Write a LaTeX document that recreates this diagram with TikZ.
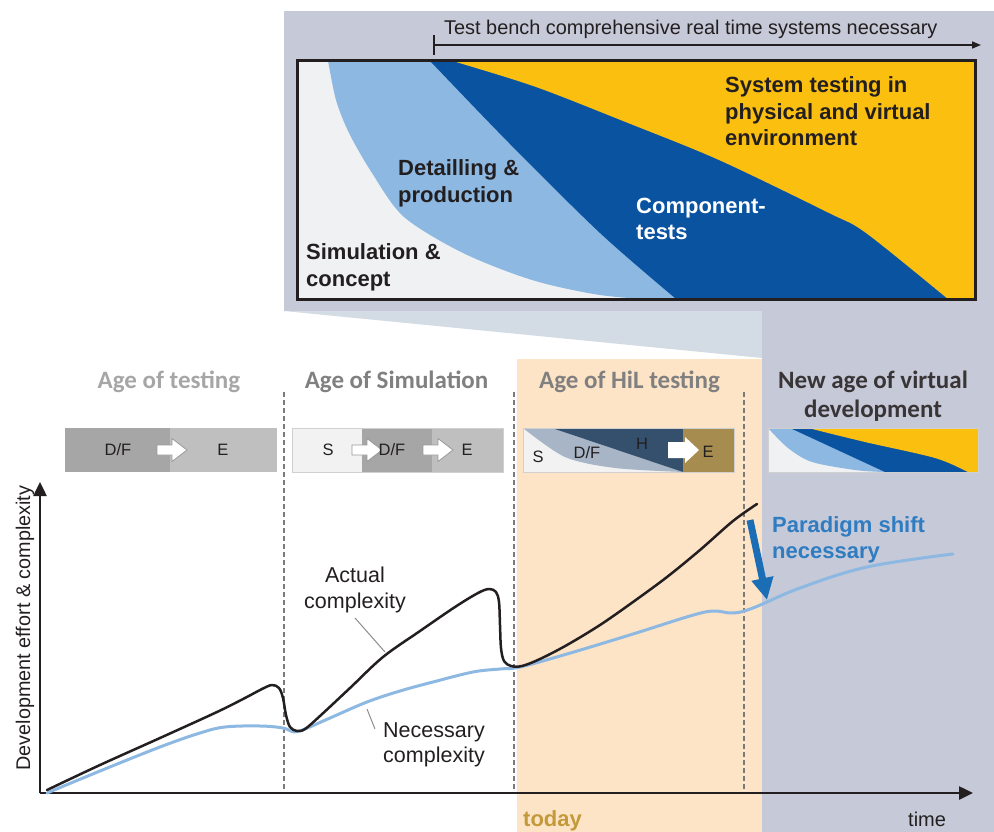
\documentclass[tikz,border=0pt]{standalone}
\usepackage{fontspec}
\setmainfont{Liberation Sans}
\newfontfamily\carl{Carlito}
\usetikzlibrary{arrows.meta}
\definecolor{panel}{HTML}{C6C9D8}
\definecolor{wedge}{HTML}{D3DCE4}
\definecolor{peach}{HTML}{FDE4C7}
\definecolor{pale}{HTML}{F0F1F3}
\definecolor{lblue}{HTML}{8DB8E2}
\definecolor{dblue}{HTML}{0A53A0}
\definecolor{gold}{HTML}{FBBF10}
\definecolor{ink}{HTML}{231F20}
\definecolor{gA}{HTML}{A6A6A6}
\definecolor{gB}{HTML}{BFBFBF}
\definecolor{gS}{HTML}{F2F2F2}
\definecolor{hband}{HTML}{A7B5C6}
\definecolor{hdark}{HTML}{34506D}
\definecolor{olive}{HTML}{A68D4F}
\definecolor{tgray1}{HTML}{A6A6A6}
\definecolor{tgray2}{HTML}{808080}
\definecolor{pblue}{HTML}{2F7CC1}
\definecolor{arrblue}{HTML}{1B6DB6}
\definecolor{todaycol}{HTML}{C39A3A}
\definecolor{leader}{HTML}{8C8C8C}
\definecolor{dashcol}{HTML}{7A7A7A}
\definecolor{boxline}{HTML}{D0D0D0}
\begin{document}
\begin{tikzpicture}[x=1pt,y=-1pt,
  txt/.style={inner sep=0,text=ink},
  boldtxt/.style={txt,font=\fontsize{22}{26}\selectfont\bfseries,anchor=base west},
  agetxt/.style={inner sep=0,font=\carl\bfseries\fontsize{25}{30}\selectfont,anchor=base},
  boxtxt/.style={txt,font=\fontsize{16.5}{20}\selectfont,anchor=base},
  curvetxt/.style={txt,font=\fontsize{21.5}{26}\selectfont,anchor=base},
  vdash/.style={draw=dashcol,line width=1.1pt,dash pattern=on 5pt off 3pt},
  axisline/.style={draw=ink,line width=2.5pt,-{Triangle[length=14pt,width=13pt]}},
  harrow/.pic={\draw[fill=white,draw=gray!80,line width=0.8pt] (0,-5)--(15,-5)--(15,-11.5)--(30,0)--(15,11.5)--(15,5)--(0,5)--cycle;}
]
\useasboundingbox (0,0) rectangle (994,832);
% backgrounds
\fill[panel] (284,11) rectangle (994,311);
\fill[panel] (762,311) rectangle (994,832);
\fill[wedge] (284,311) -- (762,311) -- (762,358) -- cycle;
\fill[peach] (517,359) rectangle (762,832);
% top arrow
\coordinate (tbs) at (434,45);
\coordinate (tbe) at (981,45);
\draw[ink,line width=1.6pt,-{Triangle[length=9pt,width=7pt]}] (tbs) -- (tbe);
\draw[ink,line width=2pt] (434,35) -- (434,55);
\node[txt,anchor=base west,font=\fontsize{19.9}{23}\selectfont] (tb) at (444,35) {Test bench comprehensive real time systems necessary};
% big box
\begin{scope}
\clip (297,61) rectangle (975,299);
\fill[pale] (297,61) rectangle (975,299);
\fill[lblue] plot[smooth] coordinates {(670,301)(600,295)(532,280)(463,253)(404,217)(372,173)(349,133)(336,100)(328,61)(326,55)} -- (980,55) -- (980,305) -- cycle;
\fill[dblue] plot[smooth] coordinates {(681,303)(676,299)(600,233)(509,143)(430,61)(425,56)} -- (980,55) -- (980,305) -- cycle;
\fill[gold] plot[smooth] coordinates {(955,305)(948,299)(866,233)(829,213)(719,160)(628,123)(536,87)(453,61)(445,58)} -- (980,55) -- (980,305) -- cycle;
\end{scope}
\draw[ink,line width=3pt] (297,61) rectangle (975,299);
\node[boldtxt] (sys1) at (725,93) {System testing in};
\node[boldtxt] (sys2) at (725,119.5) {physical and virtual};
\node[boldtxt] (sys3) at (725,146) {environment};
\node[boldtxt] (det1) at (398,176) {Detailling \&};
\node[boldtxt] (det2) at (398,202.5) {production};
\node[boldtxt,text=white] (comp1) at (636,213) {Component-};
\node[boldtxt,text=white] (comp2) at (636,240) {tests};
\node[boldtxt] (sim1) at (306,259) {Simulation \&};
\node[boldtxt] (sim2) at (306,286) {concept};
% age titles
\node[agetxt,text=tgray1] (age1) at (169,388) {Age of testing};
\node[agetxt,text=tgray2] (age2) at (396.5,388) {Age of Simulation};
\node[agetxt,text=tgray2] (age3) at (629.5,388) {Age of HiL testing};
\node[agetxt,text=ink!90] (age4a) at (873,388) {New age of virtual};
\node[agetxt,text=ink!90] (age4b) at (873,417) {development};
% box 1
\fill[gA] (65,428) rectangle (170,472);
\fill[gB] (170,428) rectangle (277,472);
\pic at (157,450) {harrow};
\node[boxtxt] (b1df) at (118,455) {D/F};
\node[boxtxt] (b1e) at (223,455) {E};
% box 2
\fill[gS] (292,428) rectangle (362,472);
\fill[gA] (362,428) rectangle (432,472);
\fill[gB] (432,428) rectangle (503,472);
\draw[boxline,line width=0.8pt] (292,428) rectangle (503,472);
\pic at (352,450) {harrow};
\pic at (423,450) {harrow};
\node[boxtxt] (b2s) at (328,455) {S};
\node[boxtxt] (b2df) at (392,455) {D/F};
\node[boxtxt] (b2e) at (467,455) {E};
% box 3 (HiL)
\fill[gS] (523,428) rectangle (683,472);
\fill[hband] plot[smooth] coordinates {(523,428)(565,457)(615,468)(683,472)} -- (683,428) -- cycle;
\fill[hdark] (552,428) -- (683,472) -- (683,428) -- cycle;
\fill[olive] (683,428) rectangle (734,472);
\draw[boxline,line width=0.8pt] (523,428) rectangle (734,472);
\fill[white] (668,442) -- (685,442) -- (685,437) -- (699,450) -- (685,463) -- (685,458) -- (668,458) -- cycle;
\node[boxtxt] (b3s) at (538,462) {S};
\node[boxtxt] (b3df) at (587,458) {D/F};
\node[boxtxt] (b3h) at (642,449) {H};
\node[boxtxt] (b3e) at (708,457) {E};
% box 4 (mini)
\begin{scope}
\clip (768,428) rectangle (978,472);
\fill[pale] (768,428) rectangle (978,472);
\fill[lblue] plot[smooth] coordinates {(900,473)(882,472)(855,470)(812,462)(788,448)(768,428)(765,424)} -- (982,424) -- (982,476) -- cycle;
\fill[dblue] (790,428) -- (982,428) -- (982,476) -- (885,472) -- cycle;
\fill[gold] plot[smooth] coordinates {(975,476)(968,472)(935,458)(865,442)(808,428)(800,426)} -- (982,424) -- (982,476) -- cycle;
\end{scope}
\draw[boxline,line width=0.8pt] (768,428) rectangle (978,472);
% dashed separators
\draw[vdash] (284,392) -- (284,793);
\draw[vdash] (514,392) -- (514,793);
\draw[vdash] (744,392) -- (744,793);
% axes
\coordinate (O) at (40,793);
\coordinate (xend) at (973,793);
\coordinate (yend) at (40,482);
\draw[axisline] (O) -- (xend);
\draw[axisline] (O) -- (yend);
\node[txt,rotate=90,font=\fontsize{19.8}{24}\selectfont] (ylab) at (25,628) {Development effort \& complexity};
\node[txt,anchor=base west,font=\fontsize{20}{24}\selectfont] (time) at (908,826) {time};
\node[inner sep=0,anchor=base west,font=\fontsize{22}{26}\selectfont\bfseries,text=todaycol] (today) at (523,826) {today};
% curves
\draw[lblue,line width=3pt,line cap=round,line join=round] plot[smooth,tension=0.6] coordinates {(47,793)(100,771)(160,747)(200,733)(225,727)(260,726)(283,728)(294,732)(305,729)(330,718)(367,702)(400,691)(433,682)(473,672)(500,669)(520,667)(567,654)(633,634)(690,616)(713,611)(733,613)(753,608)(800,588)(867,567)(953,554)};
\draw[ink,line width=2.5pt,line cap=round,line join=round] plot[smooth,tension=0.55] coordinates {(47,790)(100,765)(160,738)(217,712)(245,698)(262,689)(272,685)(279,688)(283,698)(286,715)(290,727)(297,731)(305,729)(320,716)(350,688)(383,657)(420,631)(455,607)(478,593)(489,589)(496,592)(499,602)(500,625)(501,648)(504,661)(511,666)(522,666)(540,659)(567,645)(600,625)(633,602)(667,577)(700,550)(733,521)(757,504)};
% curve labels
\node[curvetxt] (act1) at (355,582) {Actual};
\node[curvetxt] (act2) at (355,608) {complexity};
\coordinate (actA) at (355,618);
\coordinate (actB) at (385,652);
\draw[leader,line width=1pt] (actA) -- (actB);
\node[curvetxt] (nec1) at (434,737) {Necessary};
\node[curvetxt] (nec2) at (434,762) {complexity};
\coordinate (necA) at (375,729);
\coordinate (necB) at (367,709);
\draw[leader,line width=1pt] (necA) -- (necB);
% paradigm shift
\coordinate (psA) at (750,520);
\coordinate (psB) at (767,600);
\draw[arrblue,line width=7pt,-{Triangle[length=22pt,width=21pt]}] (psA) -- (psB);
\node[inner sep=0,anchor=base west,font=\fontsize{22}{26}\selectfont\bfseries,text=pblue] (ps1) at (772,532) {Paradigm shift};
\node[inner sep=0,anchor=base west,font=\fontsize{22}{26}\selectfont\bfseries,text=pblue] (ps2) at (772,558) {necessary};
\end{tikzpicture}
\end{document}
